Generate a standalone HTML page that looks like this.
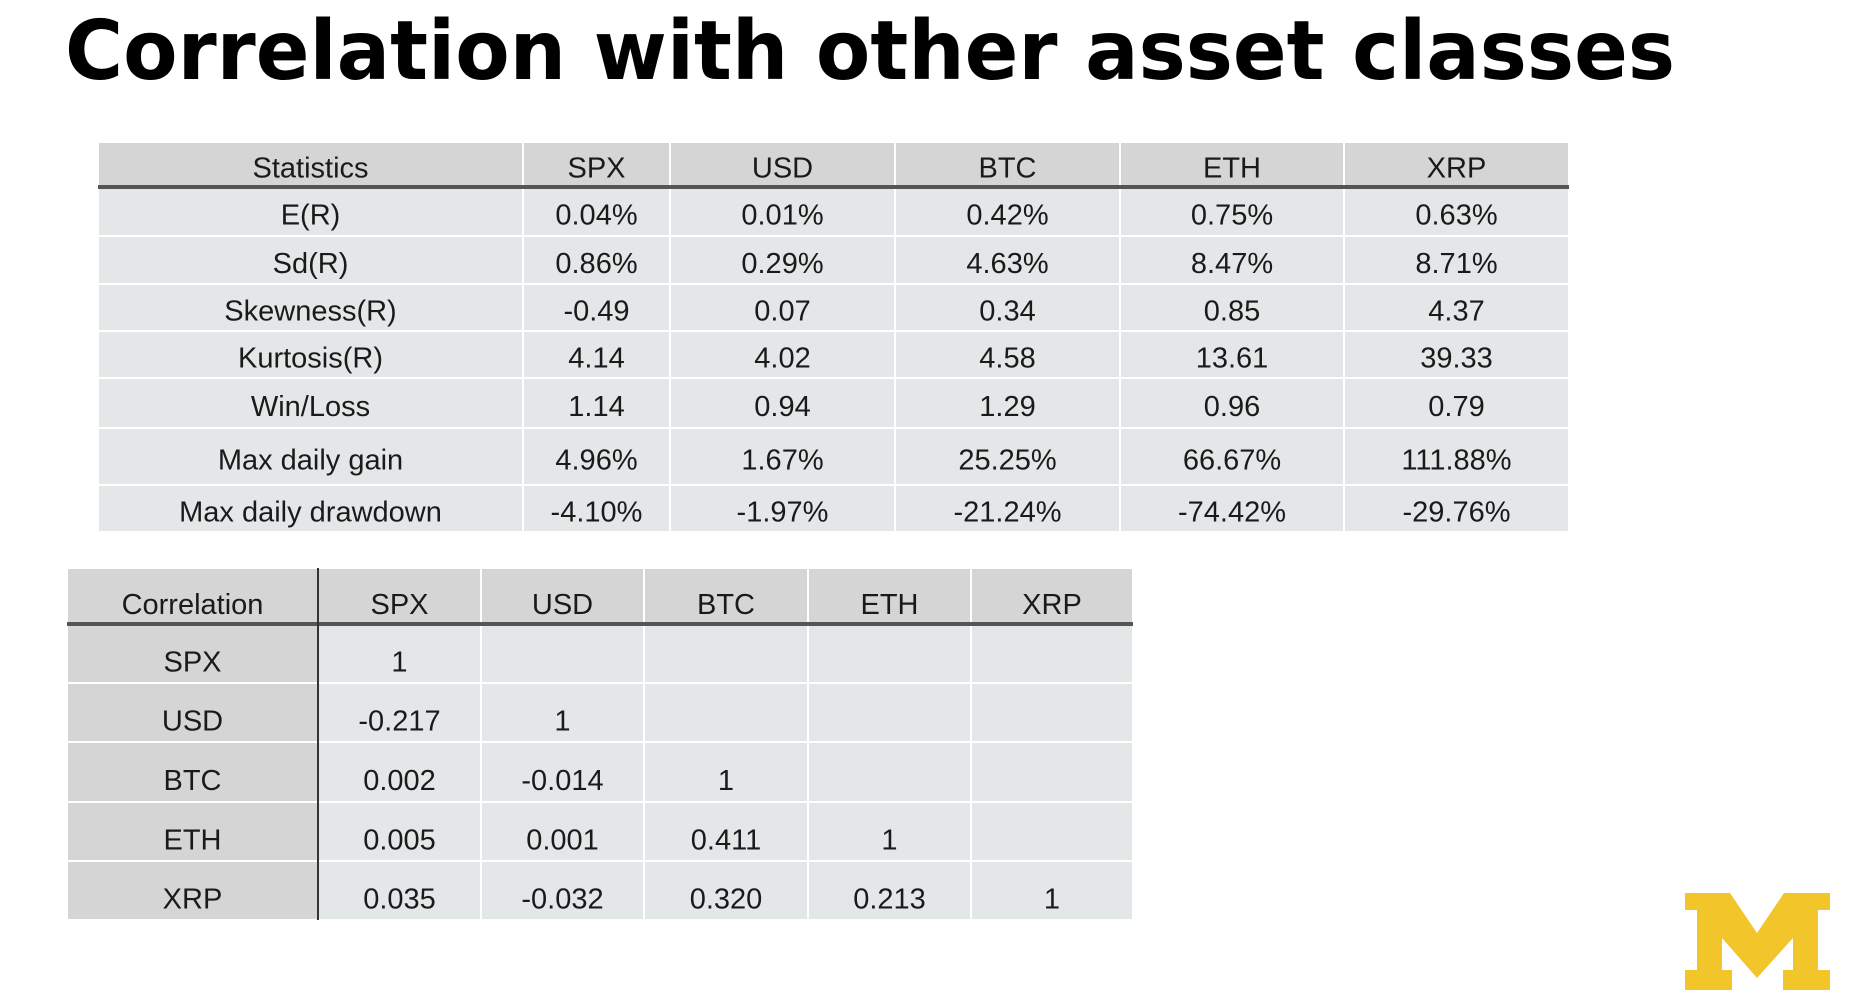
<!DOCTYPE html>
<html><head><meta charset="utf-8"><style>
html,body{margin:0;padding:0;background:#fff;}
svg{display:block;}
text{font-family:"Liberation Sans",sans-serif;fill:#1a1a1a;}
</style></head><body>
<svg id="s" width="1854" height="999" viewBox="0 0 1854 999">
<text x="65" y="79" font-size="82" font-weight="bold" style="font-family:'DejaVu Sans','Liberation Sans',sans-serif;fill:#000" textLength="1610" lengthAdjust="spacingAndGlyphs">Correlation with other asset classes</text>
<g id="stats"></g>
<g id="corr"></g>
<polygon fill="#f2c52b" transform="translate(1685,893)" points="0,0 45,0 72,40 99,0 145,0 145,17 133,17 133,77 145,77 145,97 98,97 98,77 108,77 108,45 72,85 37,45 37,77 47,77 47,97 0,97 0,77 12,77 12,17 0,17"/>
</svg>
<script>
const statHeaders = ["Statistics","SPX","USD","BTC","ETH","XRP"];
const statRows = ["E(R)","Sd(R)","Skewness(R)","Kurtosis(R)","Win/Loss","Max daily gain","Max daily drawdown"];
const statValues = [
 ["0.04%","0.01%","0.42%","0.75%","0.63%"],
 ["0.86%","0.29%","4.63%","8.47%","8.71%"],
 ["-0.49","0.07","0.34","0.85","4.37"],
 ["4.14","4.02","4.58","13.61","39.33"],
 ["1.14","0.94","1.29","0.96","0.79"],
 ["4.96%","1.67%","25.25%","66.67%","111.88%"],
 ["-4.10%","-1.97%","-21.24%","-74.42%","-29.76%"]
];
const corrHeaders = ["Correlation","SPX","USD","BTC","ETH","XRP"];
const corrRows = ["SPX","USD","BTC","ETH","XRP"];
const corrValues = [
 ["1","","","",""],
 ["-0.217","1","","",""],
 ["0.002","-0.014","1","",""],
 ["0.005","0.001","0.411","1",""],
 ["0.035","-0.032","0.320","0.213","1"]
];
const NS="http://www.w3.org/2000/svg";
function mk(tag,attrs,parent){const e=document.createElementNS(NS,tag);for(const k in attrs)e.setAttribute(k,attrs[k]);parent.appendChild(e);return e;}
function table(g,cols,rows,headers,labels,values,firstGray,name,dy){
  for(let r=0;r<rows.length-1;r++){
    for(let c=0;c<cols.length-1;c++){
      const gray = r===0 || (firstGray && c===0);
      const rect=mk('rect',{x:cols[c]+1,y:rows[r]+1,width:cols[c+1]-cols[c]-2,height:rows[r+1]-rows[r]-2,fill:gray?'#d5d5d5':'#e3e7e8'},g);
      
      
      const txt = r===0?headers[c]:(c===0?labels[r-1]:values[r-1][c-1]);
      if(txt!==""){
        const t=mk('text',{x:(cols[c]+cols[c+1])/2,y:(rows[r]+rows[r+1])/2+dy,'font-size':29,'text-anchor':'middle'},g);
        t.textContent=txt;
        
        
      }
    }
  }
  const ln=mk('rect',{x:cols[0],y:rows[1]-2,width:cols[cols.length-1]-cols[0],height:4,fill:'#555'},g);
  
  
}
table(document.getElementById('stats'),[98,523,670,895,1120,1344,1569],[142,187,236,284,331,378,428,485,532],statHeaders,statRows,statValues,false,'stats',13);
const cg=document.getElementById('corr');
table(cg,[67,318,481,644,808,971,1133],[568,624,683,742,802,861,920],corrHeaders,corrRows,corrValues,true,'corr',18);
const vl=mk('rect',{x:317,y:568,width:2,height:352,fill:'#333'},cg);


</script>
</body></html>
